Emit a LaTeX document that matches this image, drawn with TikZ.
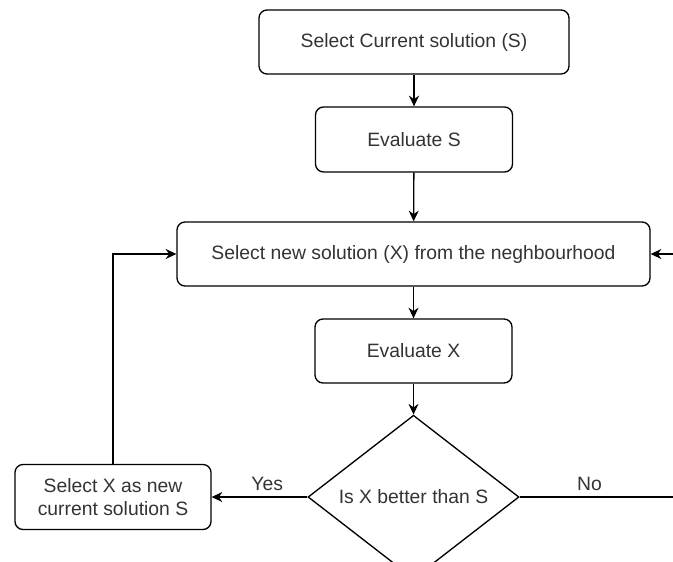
\documentclass[tikz,border=0pt]{standalone}
\usepackage{fontspec}
\setmainfont{Liberation Sans}
\usetikzlibrary{arrows.meta}
\usetikzlibrary{shapes.geometric}

\definecolor{txt}{HTML}{333333}

\tikzset{
    stepbox/.style={rectangle,rounded corners=6pt,draw,line width=1pt,text=txt,align=center,inner sep=0pt},
    decbox/.style={diamond,draw,line width=1pt,text=txt,inner sep=0pt,minimum width=158.25pt,minimum height=96pt},
    flow/.style={line width=1pt,-{Stealth[length=8pt,width=7.5pt]}},
    lbl/.style={text=txt,above=4pt,inner sep=0pt}
}

\begin{document}
\begin{tikzpicture}[x=0.75pt,y=-0.75pt,font=\fontsize{14.5}{17.5}\selectfont]
        \useasboundingbox (0,0) rectangle (673,561);

        \node[stepbox,minimum width=232.5pt,minimum height=48pt] (cur) at (414,42) {Select Current solution (S)};
        \node[stepbox,minimum width=147.75pt,minimum height=48.75pt] (evalS) at (414,139.5) {Evaluate S};
        \node[stepbox,minimum width=354.75pt,minimum height=48pt] (neigh) at (413.5,254) {Select new solution (X) from the neghbourhood};
        \node[stepbox,minimum width=147.75pt,minimum height=48pt] (evalX) at (413.5,351) {Evaluate X};
        \node[decbox] (dec) at (413.5,497) {Is X better than S};
        \node[stepbox,minimum width=147pt,minimum height=48.75pt] (selX) at (113,497) {Select X as new\\current solution S};
        \coordinate (noend) at (673,497);
        \coordinate (backin) at (673,254);

        \draw[flow] (cur) -- (evalS);
        \draw[flow] (evalS) -- (neigh);
        \draw[flow] (neigh) -- (evalX);
        \draw[flow] (evalX) -- (dec);
        \draw[flow] (dec.west) -- node[lbl,pos=0.42] {Yes} (selX.east);
        \draw[flow] (selX.north) |- (neigh.west);

        \draw[line width=1pt] (dec.east) -- node[lbl,pos=0.455] {No} (noend);
        \draw[flow] (backin) -- (neigh.east);

    \end{tikzpicture}
\end{document}
